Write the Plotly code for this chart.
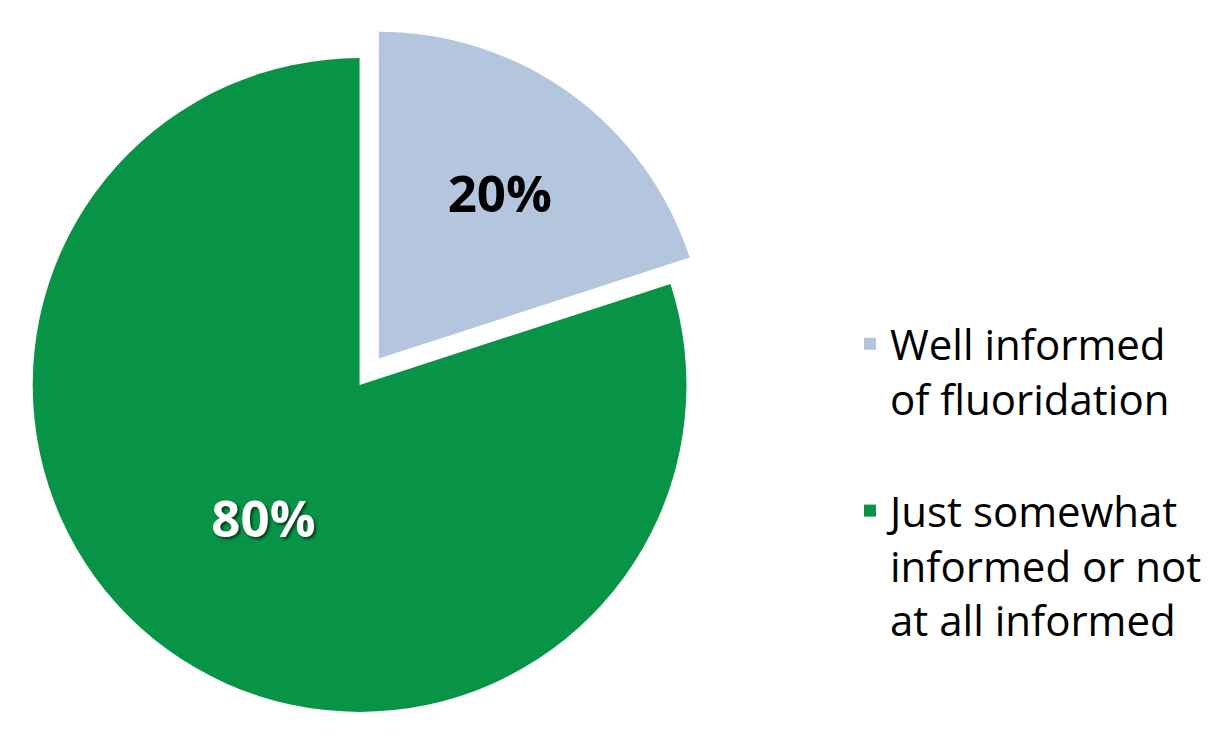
import plotly.graph_objects as go

labels = ["Well informed<br>of fluoridation<br> ", "Just somewhat<br>informed or not<br>at all informed"]
values = [20, 80]
colors = ["#B3C6DE", "#089446"]
text_colors = ["#000000", "#FFFFFF"]
pulls = [0.1, 0]

fig = go.Figure(
    go.Pie(
        labels=labels,
        values=values,
        sort=False,
        direction="clockwise",
        rotation=0,
        pull=pulls,
        marker=dict(colors=colors, line=dict(width=0)),
        textinfo="percent",
        textposition="inside",
        insidetextorientation="horizontal",
        texttemplate="<b>%{percent:.0%}</b>",
        textfont=dict(family="Open Sans", size=51, color=text_colors,
                      shadow=["none", "2px 2px 3px rgba(0,0,0,0.6)"]),
        domain=dict(x=[0, 730 / 1211], y=[0, 730 / 750]),
        hoverinfo="label+percent",
    )
)

fig.update_layout(
    width=1211,
    height=750,
    margin=dict(l=0, r=0, t=0, b=0),
    paper_bgcolor="white",
    plot_bgcolor="white",
    showlegend=True,
    legend=dict(
        x=863 / 1211,
        y=1 - 310 / 750,
        xanchor="left",
        yanchor="top",
        font=dict(family="Open Sans", size=42, color="#000000"),
        valign="top",
        itemwidth=30,
        tracegroupgap=0,
        borderwidth=0,
    ),
)

fig.write_html("out.html", config={"displayModeBar": False},
               post_script="document.body.style.margin='0';")
